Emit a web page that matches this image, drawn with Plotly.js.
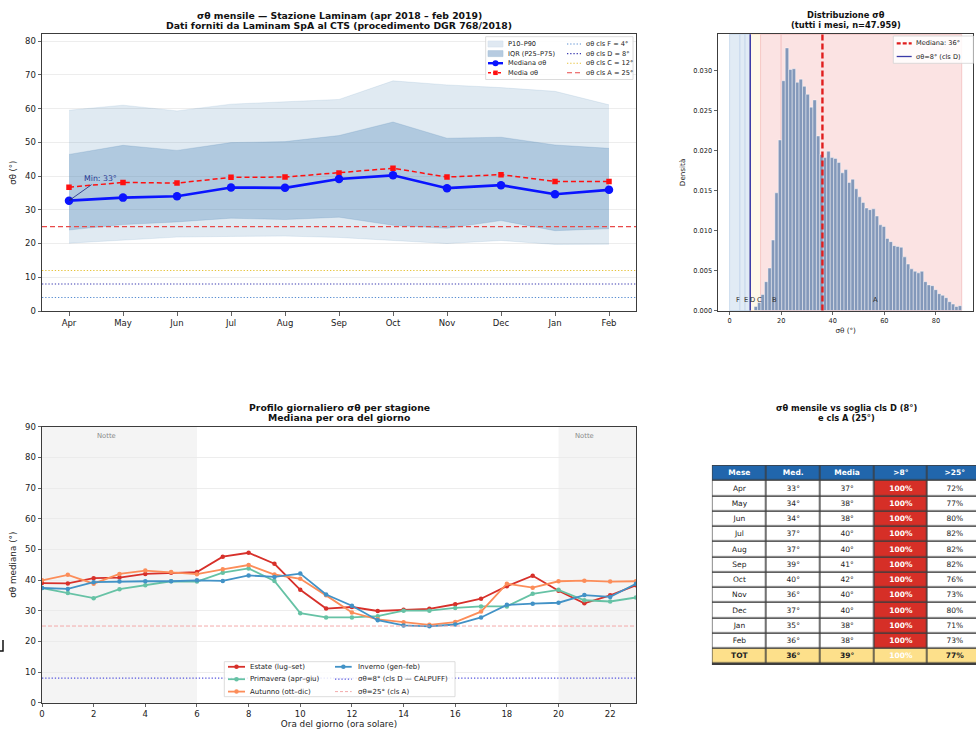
<!DOCTYPE html>
<html><head><meta charset="utf-8">
<script src="https://cdn.plot.ly/plotly-3.0.1.min.js"></script>
<style>html,body{margin:0;padding:0;background:#fff}#chart{width:976px;height:729px}</style>
</head><body><div id="chart"></div>
<script>
// ---------------- DATA ----------------
const months = ['Apr','May','Jun','Jul','Aug','Sep','Oct','Nov','Dec','Jan','Feb'];
const p10 = [20.1,21.1,21.9,22.1,22.2,21.8,20.8,20.0,20.9,19.7,19.8];
const p25 = [24.0,25.6,26.4,27.5,27.1,27.8,25.4,24.5,26.8,23.8,24.4];
const p75 = [46.4,49.1,47.6,49.9,50.2,52.0,56.0,51.2,51.5,49.2,48.2];
const p90 = [59.5,61.0,59.3,61.3,62.0,62.7,68.2,67.0,66.2,65.1,61.1];
const medianMonthly = [32.7,33.6,34.0,36.6,36.5,39.1,40.2,36.4,37.3,34.6,35.9];
const meanMonthly = [36.7,38.1,37.9,39.6,39.7,40.9,42.3,39.7,40.4,38.4,38.4];
const thrValues = [4, 8, 12, 25];
const thrLabels = ['σθ cls F = 4°','σθ cls D = 8°','σθ cls C = 12°','σθ cls A = 25°'];

const histBinStart = 9.5;
const histBinWidth = 1.3417;
const histDensity = [0.0005,0.0010,0.0020,0.0036,0.0053,0.0088,0.0147,0.0213,0.0287,0.0328,
  0.0301,0.0302,0.0285,0.0289,0.0280,0.0270,0.0254,0.0263,0.0218,0.0195,
  0.0191,0.0199,0.0191,0.0190,0.0185,0.0172,0.0176,0.0160,0.0164,0.0152,
  0.0142,0.0135,0.0128,0.0126,0.0127,0.0118,0.0107,0.0105,0.0090,0.0086,
  0.0081,0.0080,0.0079,0.0067,0.0058,0.0052,0.0049,0.0047,0.0049,0.0036,
  0.0032,0.0031,0.0026,0.0021,0.0019,0.0016,0.0011,0.0008,0.0005,0.0006];
const histMedian = 36;
const histN = '47.959';
const classEdges = [0, 4, 6, 8, 12, 20, 90];
const classNames = ['F','E','D','C','B','A'];
const classLabelX = [3.4, 6.3, 8.7, 11.4, 17.5, 56.6];

const hours = [0,1,2,3,4,5,6,7,8,9,10,11,12,13,14,15,16,17,18,19,20,21,22,23];
const estate = [39.0,38.9,40.6,40.8,42.0,42.4,42.6,47.6,48.9,45.3,36.8,30.7,31.2,29.9,30.3,30.6,32.1,33.9,38.0,41.4,36.5,32.4,35.0,38.3];
const primavera = [37.4,35.8,34.1,37.0,38.3,39.6,39.5,42.4,43.8,39.7,29.2,27.8,27.8,28.2,30.0,30.0,30.9,31.4,31.4,35.5,36.8,33.4,33.0,34.3];
const autunno = [39.9,41.7,38.8,42.0,43.1,42.6,41.9,43.5,44.9,41.8,40.4,35.0,29.4,27.2,26.2,25.4,26.3,29.7,38.8,37.5,39.6,39.8,39.5,39.6];
const inverno = [37.4,37.1,39.3,39.5,39.6,39.6,39.9,39.7,41.5,41.0,42.1,35.3,31.6,26.9,25.2,24.9,25.5,27.8,31.9,32.3,32.6,35.1,34.5,38.8];
const nightSpans = [[0,6],[20,23]];
const nightLabelX = [2.5, 21.0];

const tblHeader = ['Mese','Med.','Media','>8°','>25°'];
const tblMed = [33,34,34,37,37,39,40,36,37,35,36];
const tblMean = [37,38,38,40,40,41,42,40,40,38,38];
const tblPct8 = [100,100,100,100,100,100,100,100,100,100,100];
const tblPct25 = [72,77,80,82,82,82,76,73,80,71,73];
const tblTot = {med:36, mean:39, pct8:100, pct25:77};

// ---------------- HELPERS ----------------
const W = 976, H = 729;
const X = v => v / W;
const Y = v => 1 - v / H;
const FONT = 'DejaVu Sans';
const shapes = [], annotations = [];

const thrColors = ['#5b8fd2','#3a3ab0','#e6c23a','#e84a4a'];
const thrDash = ['1.3px,1.9px','1.3px,1.9px','1.3px,1.9px','5px,3px'];

function legendBox(x0,y0,x1,y1){
  shapes.push({type:'rect',xref:'paper',yref:'paper',x0:X(x0),x1:X(x1),y0:Y(y1),y1:Y(y0),
    fillcolor:'rgba(255,255,255,0.85)',line:{color:'#d3d3d3',width:0.8},layer:'above'});
}
function legendItem(sx0,sx1,tx,yy,label,sym,fs){
  if(sym.kind==='patch'){
    shapes.push({type:'rect',xref:'paper',yref:'paper',x0:X(sx0),x1:X(sx1),y0:Y(yy+3),y1:Y(yy-3),
      fillcolor:sym.color,line:{color:sym.edge||sym.color,width:0.6},layer:'above'});
  } else {
    shapes.push({type:'line',xref:'paper',yref:'paper',x0:X(sx0),x1:X(sx1),y0:Y(yy),y1:Y(yy),
      line:{color:sym.color,width:sym.width,dash:sym.dash||'solid'},layer:'above'});
    const cx=(sx0+sx1)/2, r=(sym.msize||0)/2;
    if(sym.marker==='circle') shapes.push({type:'circle',xref:'paper',yref:'paper',x0:X(cx-r),x1:X(cx+r),y0:Y(yy+r),y1:Y(yy-r),fillcolor:sym.color,line:{width:0},layer:'above'});
    if(sym.marker==='square') shapes.push({type:'rect',xref:'paper',yref:'paper',x0:X(cx-r),x1:X(cx+r),y0:Y(yy+r),y1:Y(yy-r),fillcolor:sym.color,line:{width:0},layer:'above'});
  }
  annotations.push({xref:'paper',yref:'paper',x:X(tx),y:Y(yy),xanchor:'left',yanchor:'middle',showarrow:false,
    text:label,font:{family:FONT,size:fs,color:'#222'}});
}
function title(cx, yy, txt, fs){
  annotations.push({xref:'paper',yref:'paper',x:X(cx),y:Y(yy),xanchor:'center',yanchor:'middle',showarrow:false,
    text:'<b>'+txt+'</b>',font:{family:FONT,size:fs,color:'#111'}});
}

// ---------------- TRACES ----------------
const idx = months.map((m,i)=>i);
const bandOuter = 'rgba(70,130,180,0.17)', bandInner = 'rgba(70,130,180,0.31)';
const traces = [];
traces.push({x:idx,y:p10,type:'scatter',mode:'lines',line:{width:0.6,color:'rgba(70,130,180,0.2)'},xaxis:'x',yaxis:'y'});
traces.push({x:idx,y:p90,type:'scatter',mode:'lines',fill:'tonexty',fillcolor:bandOuter,line:{width:0.6,color:'rgba(70,130,180,0.2)'},xaxis:'x',yaxis:'y'});
traces.push({x:idx,y:p25,type:'scatter',mode:'lines',line:{width:0.6,color:'rgba(70,130,180,0.3)'},xaxis:'x',yaxis:'y'});
traces.push({x:idx,y:p75,type:'scatter',mode:'lines',fill:'tonexty',fillcolor:bandInner,line:{width:0.6,color:'rgba(70,130,180,0.3)'},xaxis:'x',yaxis:'y'});
traces.push({x:idx,y:meanMonthly,type:'scatter',mode:'lines+markers',line:{color:'#ff1010',width:1.5,dash:'5px,3px'},
  marker:{symbol:'square',size:5.5,color:'#ff1010'},xaxis:'x',yaxis:'y'});
traces.push({x:idx,y:medianMonthly,type:'scatter',mode:'lines+markers',line:{color:'#0a14ff',width:2.6},
  marker:{symbol:'circle',size:8.5,color:'#0a14ff'},xaxis:'x',yaxis:'y'});

thrValues.forEach((v,i)=>shapes.push({type:'line',xref:'x domain',yref:'y',x0:0,x1:1,y0:v,y1:v,
  line:{color:thrColors[i],width:1.2,dash:thrDash[i]},layer:'above'}));

const minVal = Math.min(...medianMonthly), minIdx = medianMonthly.indexOf(minVal);
annotations.push({xref:'x',yref:'y',x:minIdx,y:minVal,text:'Min: '+Math.round(minVal)+'°',showarrow:true,
  ax:31,ay:-22,arrowhead:2,arrowsize:0.8,arrowwidth:0.8,arrowcolor:'#1a237e',
  font:{family:FONT,size:7.8,color:'#1f3590'}});

// histogram
const histX = histDensity.map((d,i)=>histBinStart + histBinWidth*(i+0.5));
traces.push({x:histX,y:histDensity,type:'bar',width:histBinWidth,marker:{color:'#8398ba',line:{color:'rgba(255,255,255,0.85)',width:0.5}},xaxis:'x2',yaxis:'y2'});
const classFill = ['#e1ebf5','#e1ebf5','#e1ebf5','#fff8e9','#fbe3e3','#fbe3e3'];
const classEdge = ['#c3d6eb','#c3d6eb','#c3d6eb','#fbe0c4','#f5c3c3','#f2bebe'];
classNames.forEach((c,i)=>{
  shapes.push({type:'rect',xref:'x2',yref:'y2 domain',x0:classEdges[i],x1:classEdges[i+1],y0:0,y1:1,
    fillcolor:classFill[i],line:{color:classEdge[i],width:0.8},layer:'below'});
  annotations.push({xref:'x2',yref:'y2',x:classLabelX[i],y:0.00125,text:c,showarrow:false,
    font:{family:FONT,size:6.8,color:'#333'}});
});
shapes.push({type:'line',xref:'x2',yref:'y2 domain',x0:thrValues[1],x1:thrValues[1],y0:0,y1:1,line:{color:'#3a3aa8',width:1.5},layer:'above'});
shapes.push({type:'line',xref:'x2',yref:'y2 domain',x0:histMedian,x1:histMedian,y0:0,y1:1,line:{color:'#e01e1e',width:2.4,dash:'6px,3px'},layer:'above'});

// hourly profiles
const seasonColors = ['#d7302a','#66c2a5','#fc8d59','#4292c6'];
const seasonNames = ['Estate (lug–set)','Primavera (apr–giu)','Autunno (ott–dic)','Inverno (gen–feb)'];
[estate,primavera,autunno,inverno].forEach((s,i)=>traces.push({x:hours,y:s,type:'scatter',mode:'lines+markers',
  line:{color:seasonColors[i],width:1.8},marker:{size:4.5,color:seasonColors[i]},xaxis:'x3',yaxis:'y3'}));
nightSpans.forEach((sp,i)=>{
  shapes.push({type:'rect',xref:'x3',yref:'y3 domain',x0:sp[0],x1:sp[1],y0:0,y1:1,fillcolor:'#f4f4f4',line:{width:0},layer:'below'});
  annotations.push({xref:'x3',yref:'y3',x:nightLabelX[i],y:87,text:'Notte',showarrow:false,font:{family:FONT,size:6.8,color:'#8a8a8a'}});
});
shapes.push({type:'line',xref:'x3 domain',yref:'y3',x0:0,x1:1,y0:thrValues[1],y1:thrValues[1],line:{color:'#5555dd',width:1.3,dash:'1.3px,1.9px'},layer:'above'});
shapes.push({type:'line',xref:'x3 domain',yref:'y3',x0:0,x1:1,y0:thrValues[3],y1:thrValues[3],line:{color:'#f2a0a0',width:0.9,dash:'4px,2px'},layer:'above'});

// table: cells drawn as a heatmap on its own hidden axes, texts as a text trace
const nRows = months.length + 2, nCols = tblHeader.length;
const colWidth = 54;
const colEdges = Array.from({length:nCols+1},(_,c)=>c*colWidth);
const rowEdges = Array.from({length:nRows+1},(_,r)=>r);
const fmtDeg = v => v+'°', fmtPct = v => v+'%';
const columns = [
  months.concat(['TOT']),
  tblMed.map(fmtDeg).concat([fmtDeg(tblTot.med)]),
  tblMean.map(fmtDeg).concat([fmtDeg(tblTot.mean)]),
  tblPct8.map(fmtPct).concat([fmtPct(tblTot.pct8)]),
  tblPct25.map(fmtPct).concat([fmtPct(tblTot.pct25)])
];
// z: 0 white, 1 red, 2 yellow(TOT), 3 header blue
const zTable = [];
for(let r=0;r<nRows;r++){
  const row=[];
  for(let c=0;c<nCols;c++){
    if(r===0) row.push(3);
    else if(r===nRows-1) row.push(2);
    else row.push(c===3 ? 1 : 0);
  }
  zTable.push(row);
}
shapes.push({type:'rect',xref:'x4',yref:'y4',x0:-0.8,x1:colEdges[nCols],y0:-0.05,y1:nRows+0.05,fillcolor:'#3d3d3d',line:{width:0},layer:'below'});
traces.push({type:'heatmap',x:colEdges,y:rowEdges,z:zTable,zmin:0,zmax:3,showscale:false,xgap:1.5,ygap:1.5,
  colorscale:[[0,'#ffffff'],[0.16,'#ffffff'],[0.17,'#d62f27'],[0.49,'#d62f27'],[0.5,'#fde08b'],[0.83,'#fde08b'],[0.84,'#2166ac'],[1,'#2166ac']],
  xaxis:'x4',yaxis:'y4',hoverinfo:'skip'});
const tX=[], tY=[], tT=[], tC=[];
for(let c=0;c<nCols;c++){
  tX.push((colEdges[c]+colEdges[c+1])/2); tY.push(0.5); tT.push('<b>'+tblHeader[c]+'</b>'); tC.push('#ffffff');
  for(let r=1;r<nRows;r++){
    const v = columns[c][r-1];
    const bold = (r===nRows-1) || c===3;
    tX.push((colEdges[c]+colEdges[c+1])/2); tY.push(r+0.5);
    tT.push(bold ? '<b>'+v+'</b>' : v);
    tC.push(c===3 ? '#ffffff' : '#222222');
  }
}
traces.push({type:'scatter',mode:'text',x:tX,y:tY,text:tT,textposition:'middle center',
  textfont:{family:FONT,size:7.5,color:tC},xaxis:'x4',yaxis:'y4',hoverinfo:'skip',cliponaxis:true});

// ---------------- TITLES & LEGENDS ----------------
title(339,15.5,'σθ mensile — Stazione Laminam (apr 2018 – feb 2019)',9.3);
title(339,25.8,'Dati forniti da Laminam SpA al CTS (procedimento DGR 768/2018)',9.3);
title(845.5,15.5,'Distribuzione σθ',8.3);
title(845.5,25.3,'(tutti i mesi, n='+histN+')',8.3);
title(339,407.3,'Profilo giornaliero σθ per stagione',9.3);
title(339,417.5,'Mediana per ora del giorno',9.3);
title(846.7,407.5,'σθ mensile vs soglia cls D (8°)',8.3);
title(846.7,417.5,'e cls A (25°)',8.3);

legendBox(485.7,36.7,633,79.5);
const tlRows = [44,53.6,63.2,72.8];
const tlCol1 = [
  ['P10–P90',{kind:'patch',color:'#e0e9f2',edge:'#d3e0ec'}],
  ['IQR (P25–P75)',{kind:'patch',color:'#b6cbe0',edge:'#a9c2da'}],
  ['Mediana σθ',{kind:'line',color:'#0a14ff',width:2.4,marker:'circle',msize:6}],
  ['Media σθ',{kind:'line',color:'#ff1010',width:1.4,dash:'3px,2px',marker:'square',msize:4.5}]
];
tlCol1.forEach((e,i)=>legendItem(488,503,506,tlRows[i],e[0],e[1],6.6));
thrLabels.forEach((l,i)=>legendItem(567,581,584,tlRows[i],l,{kind:'line',color:thrColors[i],width:1.1,dash:thrDash[i]},6.6));

legendBox(893.3,36,973.3,63.3);
legendItem(896.7,911.7,913.5,43.3,'Mediana: '+histMedian+'°',{kind:'line',color:'#e01e1e',width:2.2,dash:'4px,2px'},6.6);
legendItem(896.7,911.7,913.5,56.5,'σθ='+thrValues[1]+'° (cls D)',{kind:'line',color:'#3a3aa8',width:1.3},6.6);

legendBox(224.3,661.7,455,696.7);
const blRows = [666.8,679.2,691.6];
[0,1,2].forEach(i=>legendItem(228,245,248,blRows[i],seasonNames[i],{kind:'line',color:seasonColors[i],width:1.8,marker:'circle',msize:4.5},7));
legendItem(335,351.7,356,blRows[0],seasonNames[3],{kind:'line',color:seasonColors[3],width:1.8,marker:'circle',msize:4.5},7);
legendItem(335,351.7,356,blRows[1],'σθ='+thrValues[1]+'° (cls D — CALPUFF)',{kind:'line',color:'#5555dd',width:1.2,dash:'1.3px,1.9px'},7);
legendItem(335,351.7,356,blRows[2],'σθ='+thrValues[3]+'° (cls A)',{kind:'line',color:'#f2a0a0',width:0.9,dash:'3px,2px'},7);

shapes.push({type:'path',xref:'paper',yref:'paper',path:`M ${X(3)} ${Y(640)} L ${X(3)} ${Y(651)} L ${X(0)} ${Y(651)}`,line:{color:'#111',width:1.5},layer:'above'});

// ---------------- LAYOUT ----------------
const axBase = {showline:true,mirror:true,linecolor:'#3c3c3c',linewidth:1,ticks:'outside',ticklen:3.5,tickwidth:0.8,tickcolor:'#3c3c3c',
  zeroline:false,tickfont:{family:FONT,size:8.5,color:'#222'},automargin:false};
const gridY = {showgrid:true,gridcolor:'#e8e8e8',gridwidth:0.8};
const hidden = {visible:false,showgrid:false,zeroline:false,fixedrange:true};
const layout = {
  width:W,height:H,margin:{l:0,r:0,t:0,b:0},paper_bgcolor:'#ffffff',plot_bgcolor:'#ffffff',showlegend:false,bargap:0,
  font:{family:FONT},
  xaxis:Object.assign({},axBase,{domain:[X(42),X(636)],range:[-0.5,10.5],tickvals:idx,ticktext:months,showgrid:false,anchor:'y'}),
  yaxis:Object.assign({},axBase,gridY,{domain:[Y(311),Y(34.3)],range:[0,82],dtick:10,anchor:'x',
    title:{text:'σθ (°)',font:{family:FONT,size:8.5,color:'#222'},standoff:6}}),
  xaxis2:Object.assign({},axBase,{domain:[X(718),X(973.3)],range:[-4.5,94.5],tickvals:[0,20,40,60,80],showgrid:false,anchor:'y2',
    tickfont:{family:FONT,size:6.6,color:'#222'},title:{text:'σθ (°)',font:{family:FONT,size:7.2,color:'#222'},standoff:4}}),
  yaxis2:Object.assign({},axBase,{domain:[Y(310.5),Y(34.3)],range:[0,0.0345],dtick:0.005,tickformat:'.3f',showgrid:false,anchor:'x2',
    tickfont:{family:FONT,size:6.6,color:'#222'},title:{text:'Densità',font:{family:FONT,size:7.2,color:'#222'},standoff:6}}),
  xaxis3:Object.assign({},axBase,{domain:[X(42),X(636)],range:[0,23],dtick:2,showgrid:false,anchor:'y3',
    title:{text:'Ora del giorno (ora solare)',font:{family:FONT,size:8.8,color:'#222'},standoff:4}}),
  yaxis3:Object.assign({},axBase,gridY,{domain:[Y(702.7),Y(426.7)],range:[0,90],dtick:10,anchor:'x3',
    title:{text:'σθ mediana (°)',font:{family:FONT,size:8.8,color:'#222'},standoff:6}}),
  xaxis4:Object.assign({},hidden,{domain:[X(711.7),1],range:[-0.8,264.3],anchor:'y4'}),
  yaxis4:Object.assign({},hidden,{domain:[Y(664.9),Y(465)],range:[nRows+0.05,-0.05],anchor:'x4'}),
  shapes:shapes,annotations:annotations
};
Plotly.newPlot('chart',traces,layout,{displayModeBar:false,staticPlot:true});
</script></body></html>
